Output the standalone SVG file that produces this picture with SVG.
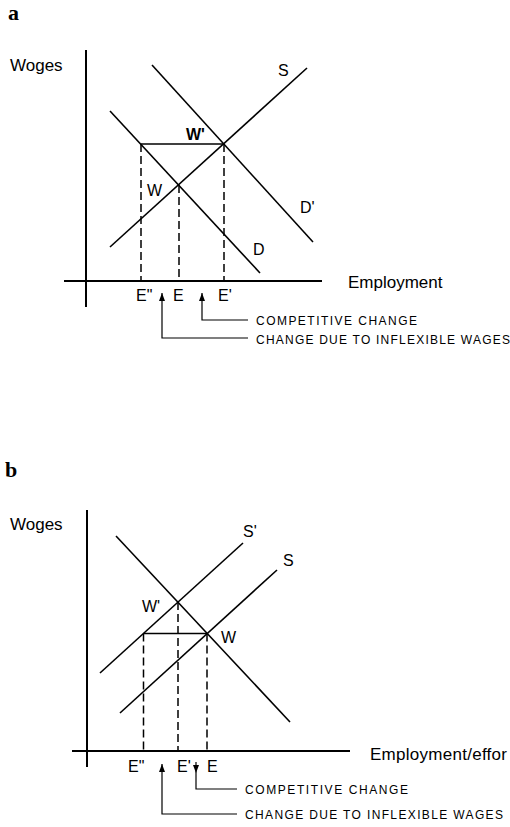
<svg xmlns="http://www.w3.org/2000/svg" width="510" height="827" viewBox="0 0 510 827">
<style>
.ln{stroke:#000;stroke-width:1.6;fill:none}
.ax{stroke:#000;stroke-width:2;fill:none}
.ds{stroke:#000;stroke-width:1.5;fill:none;stroke-dasharray:8 4}
.ar{stroke:#000;stroke-width:1.2;fill:none}
.t{font-family:"Liberation Sans",Arial,sans-serif;font-size:17px;fill:#000}
.l{font-family:"Liberation Sans",Arial,sans-serif;font-size:16px;fill:#000}
.c{font-family:"Liberation Sans",Arial,sans-serif;font-size:12px;fill:#000}
.p{font-family:"Liberation Serif","Times New Roman",serif;font-size:22px;font-weight:bold;fill:#000}
</style>
<defs>
<marker id="ah" viewBox="0 0 8 6" refX="8" refY="3" markerWidth="8" markerHeight="6" orient="auto" markerUnits="userSpaceOnUse">
<path d="M0,0 L8,3 L0,6 Z" fill="#000"/>
</marker>
</defs>
<rect width="510" height="827" fill="#fff"/>

<g id="panel-a">
<text class="p" x="8" y="20">a</text>
<g id="a-axes">
<line class="ax" x1="86" y1="50" x2="86" y2="307"/>
<line class="ax" x1="64" y1="281" x2="322" y2="281"/>
<text class="t" x="10" y="71">Woges</text>
<text class="t" x="348" y="288">Employment</text>
</g>
<g id="a-curves">
<line class="ln" x1="110" y1="247" x2="307" y2="68"/>
<line class="ln" x1="152" y1="65" x2="313" y2="242"/>
<line class="ln" x1="110" y1="111" x2="260" y2="273"/>
<text class="l" x="278" y="76">S</text>
<text class="l" x="300" y="213">D'</text>
<text class="l" x="253" y="255">D</text>
</g>
<g id="a-equilibria">
<line class="ln" x1="141" y1="144" x2="224" y2="144"/>
<text class="l" x="186" y="140" font-weight="bold">W'</text>
<text class="l" x="147" y="196">W</text>
</g>
<g id="a-connectors">
<line class="ds" x1="141" y1="144" x2="141" y2="281"/>
<line class="ds" x1="179" y1="185" x2="179" y2="281"/>
<line class="ds" x1="224" y1="144" x2="224" y2="281"/>
</g>
<g id="a-ticks">
<text class="l" x="136" y="301">E"</text>
<text class="l" x="173" y="301">E</text>
<text class="l" x="218" y="301">E'</text>
</g>
<g id="a-arrows">
<polyline class="ar" points="248,338 162,338 162,293" marker-end="url(#ah)"/>
<polyline class="ar" points="248,320 202,320 202,293" marker-end="url(#ah)"/>
<text class="c" x="256" y="325" textLength="161" lengthAdjust="spacing">COMPETITIVE  CHANGE</text>
<text class="c" x="256" y="344" textLength="254" lengthAdjust="spacing">CHANGE DUE TO INFLEXIBLE WAGES</text>
</g>
</g>

<g id="panel-b">
<text class="p" x="5" y="477">b</text>
<g id="b-axes">
<line class="ax" x1="87" y1="510" x2="87" y2="767"/>
<line class="ax" x1="72" y1="751" x2="350" y2="751"/>
<text class="t" x="10" y="530">Woges</text>
<text class="t" x="370" y="760" textLength="137" lengthAdjust="spacing">Employment/effor</text>
</g>
<g id="b-curves">
<line class="ln" x1="100" y1="673" x2="243" y2="543"/>
<line class="ln" x1="120" y1="713" x2="277" y2="570"/>
<line class="ln" x1="116" y1="536" x2="290" y2="722"/>
<text class="l" x="243" y="537">S'</text>
<text class="l" x="283" y="566">S</text>
</g>
<g id="b-equilibria">
<line class="ln" x1="143.5" y1="633.5" x2="207" y2="633.5"/>
<text class="l" x="142" y="612">W'</text>
<text class="l" x="221" y="643">W</text>
</g>
<g id="b-connectors">
<line class="ds" x1="143.5" y1="633.5" x2="143.5" y2="751"/>
<line class="ds" x1="178" y1="602" x2="178" y2="751"/>
<line class="ds" x1="207" y1="633.5" x2="207" y2="751"/>
</g>
<g id="b-ticks">
<text class="l" x="128" y="772">E"</text>
<text class="l" x="177" y="772">E'</text>
<text class="l" x="207" y="772">E</text>
</g>
<g id="b-arrows">
<line class="ar" x1="196" y1="762" x2="196" y2="773" marker-end="url(#ah)"/>
<polyline class="ar" points="196,773 196,789 237,789"/>
<polyline class="ar" points="237,814 162,814 162,764" marker-end="url(#ah)"/>
<text class="c" x="245" y="794" textLength="163" lengthAdjust="spacing">COMPETITIVE  CHANGE</text>
<text class="c" x="245" y="819" textLength="258" lengthAdjust="spacing">CHANGE DUE TO INFLEXIBLE WAGES</text>
</g>
</g>
</svg>
